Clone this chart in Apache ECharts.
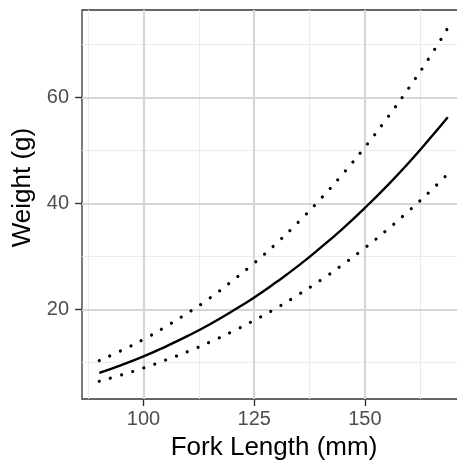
<!DOCTYPE html>
<html>
<head>
<meta charset="utf-8">
<script src="https://cdn.jsdelivr.net/npm/echarts@6/dist/echarts.min.js"></script>
<style>html,body{margin:0;padding:0;background:#fff;}#c{width:457px;height:465px;}</style>
</head>
<body>
<div id="c"></div>
<script>
// Data
const forkLength = [90, 95, 100, 105, 110, 115, 120, 125, 130, 135, 140, 145, 150, 155, 160, 165, 168.7];
const fitWeight  = [8.1, 9.57, 11.2, 13.05, 15.05, 17.25, 19.7, 22.3, 25.2, 28.3, 31.7, 35.3, 39.2, 43.35, 47.8, 52.6, 56.3];
const upperWeight = [10.4, 12.3, 14.4, 16.8, 19.4, 22.2, 25.4, 28.8, 32.5, 36.55, 40.9, 45.6, 50.65, 56.1, 61.9, 68.1, 73.1];
const lowerWeight = [6.5, 7.7, 9.0, 10.5, 12.1, 13.9, 15.85, 18.0, 20.3, 22.85, 25.55, 28.5, 31.65, 35.05, 38.7, 42.55, 45.6];
const xTicks = [100, 125, 150];
const xMinorGrid = [87.5, 112.5, 137.5, 162.5];
const yTicks = [20, 40, 60];
const yMinorGrid = [10, 30, 50, 70];
const xTitle = 'Fork Length (mm)';
const yTitle = 'Weight (g)';

const FONT = '"Liberation Sans", Arial, Helvetica, sans-serif';
const pairs = arr => forkLength.map((x, i) => [x, arr[i]]);

const chart = echarts.init(document.getElementById('c'), null, {renderer: 'canvas'});
const minorStyle = {color: '#ebebeb', width: 1.1, type: 'solid'};
const majorStyle = {color: '#d6d6d6', width: 2.2, type: 'solid'};
const gridLines = [].concat(
  xMinorGrid.map(v => ({xAxis: v, lineStyle: minorStyle})),
  yMinorGrid.map(v => ({yAxis: v, lineStyle: minorStyle})),
  xTicks.map(v => ({xAxis: v, lineStyle: majorStyle})),
  yTicks.map(v => ({yAxis: v, lineStyle: majorStyle}))
);
const curveBase = {type: 'line', z: 3, symbol: 'none', showSymbol: false, smooth: true, silent: true, emphasis: {disabled: true}};
chart.setOption({
  animation: false,
  backgroundColor: '#ffffff',
  grid: {left: 82, right: -8, top: 10, bottom: 66, outerBoundsMode: 'none', containLabel: false, show: true, borderColor: '#333333', borderWidth: 1.3, backgroundColor: 'transparent'},
  xAxis: {
    type: 'value', min: 86.1, max: 172.6,
    axisLine: {show: false},
    splitLine: {show: false},
    axisTick: {show: true, customValues: xTicks, length: 7, lineStyle: {color: '#333333', width: 1.4}},
    axisLabel: {customValues: xTicks, margin: 10, color: '#4d4d4d', fontSize: 20, fontFamily: FONT}
  },
  yAxis: {
    type: 'value', min: 3.16, max: 76.5,
    axisLine: {show: false},
    splitLine: {show: false},
    axisTick: {show: true, customValues: yTicks, length: 7, lineStyle: {color: '#333333', width: 1.4}},
    axisLabel: {customValues: yTicks, margin: 13, color: '#4d4d4d', fontSize: 20, fontFamily: FONT}
  },
  graphic: [
    {type: 'text', x: 274, y: 448, z: 10, style: {text: xTitle, fill: '#000', font: '26px ' + FONT, textAlign: 'center', textVerticalAlign: 'middle'}},
    {type: 'text', x: 22.5, y: 187.5, rotation: Math.PI / 2, z: 10, style: {text: yTitle, fill: '#000', font: '26px ' + FONT, textAlign: 'center', textVerticalAlign: 'middle'}}
  ],
  series: [
    {type: 'line', data: [], z: 1, silent: true, symbol: 'none',
     markLine: {z: 1, silent: true, symbol: 'none', label: {show: false}, animation: false, data: gridLines}},
    Object.assign({}, curveBase, {data: pairs(upperWeight),
     lineStyle: {color: '#000', width: 3.2, type: [0.01, 11.6], cap: 'round'}}),
    Object.assign({}, curveBase, {data: pairs(lowerWeight),
     lineStyle: {color: '#000', width: 3.2, type: [0.01, 11.6], cap: 'round'}}),
    Object.assign({}, curveBase, {data: pairs(fitWeight), z: 4,
     lineStyle: {color: '#000', width: 2.4}})
  ]
});
</script>
</body>
</html>
